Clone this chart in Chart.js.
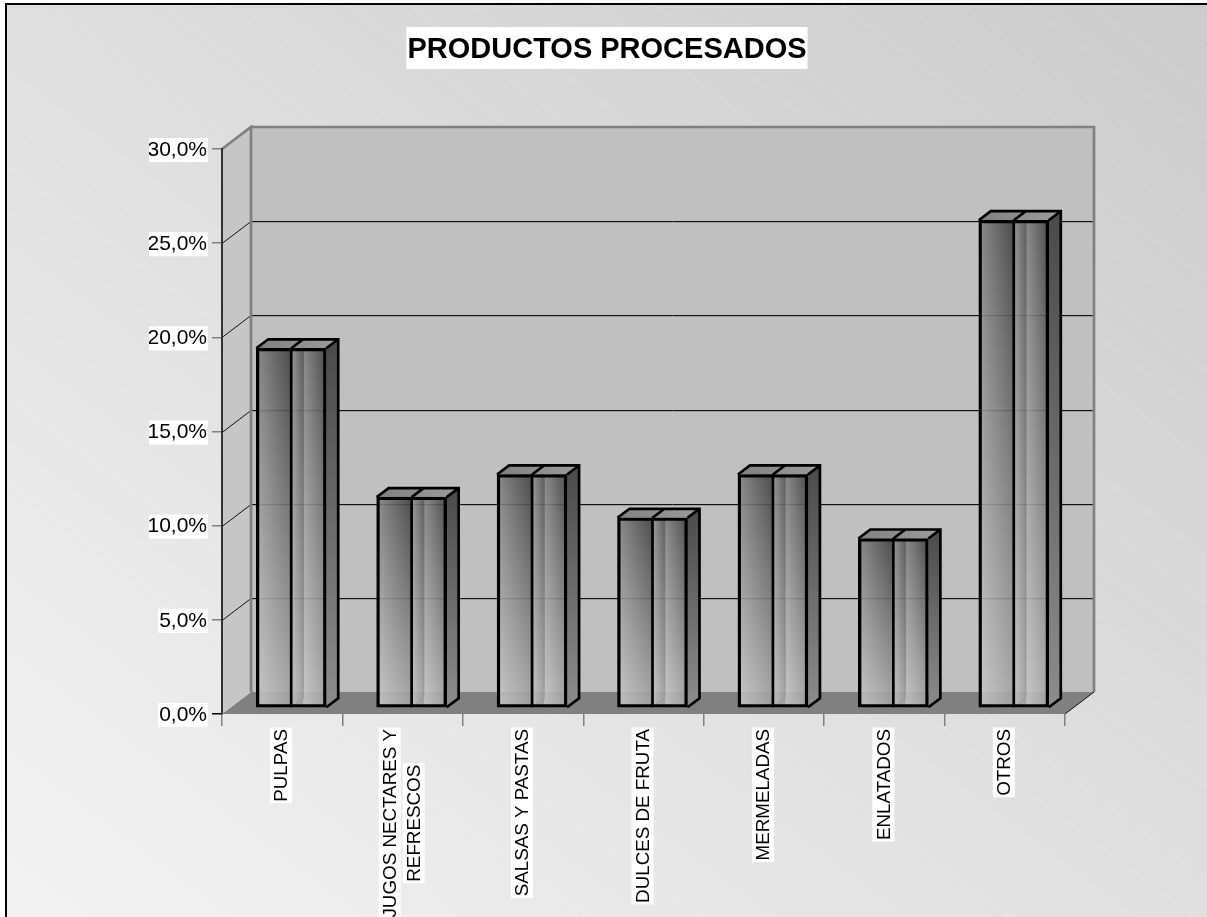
<!DOCTYPE html>
<html>
<head>
<meta charset="utf-8">
<style>html,body{margin:0;padding:0;background:#fff;overflow:hidden}canvas{display:block}</style>
<script src="https://cdn.jsdelivr.net/npm/chart.js@4"></script>
</head>
<body>
<canvas id="c" width="1207" height="917" style="width:1207px;height:917px"></canvas>
<script>
const titleText = 'PRODUCTOS PROCESADOS';
const categories = ['PULPAS', ['JUGOS NECTARES Y', 'REFRESCOS'], 'SALSAS Y PASTAS', 'DULCES DE FRUTA', 'MERMELADAS', 'ENLATADOS', 'OTROS'];
const values = [19.1, 11.2, 12.4, 10.1, 12.4, 9.0, 25.9];
const yTicks = { min: 0, max: 30, step: 5 };

const FONT = '"Liberation Sans", Arial, sans-serif';
const WALL = { dx: 29, dy: -22 };     // depth of the 3-D box
const BAR = { ox: 9, oy: -6, dx: 12, dy: -9 };

function shade(v, a) { v = Math.round(v); return `rgba(${v},${v},${v},${a})`; }

function drawHalf(ctx, x0, x1, top, bot, a) {
  const yTop = Math.round(top), yBot = Math.round(bot), H = yBot - yTop, step = 2;
  const xa = Math.round(x0), xb = Math.round(x1);
  for (let y = yTop; y < yBot; y += step) {
    const t = (y - yTop) / H;
    const l = 131 + (201 - 131) * t, r = 60 + (165 - 60) * t;
    const g = ctx.createLinearGradient(xa, 0, xb, 0);
    g.addColorStop(0, shade(l, a));
    g.addColorStop(1, shade(r, a));
    ctx.fillStyle = g;
    ctx.fillRect(xa, y, xb - xa, Math.min(step, yBot - y));
  }
}

const box3d = {
  id: 'box3d',
  beforeDraw(chart) {
    const ctx = chart.ctx, W = chart.width, H = chart.height;
    const { left, right, top, bottom } = chart.chartArea;
    const y = chart.scales.y;
    ctx.save();
    ctx.fillStyle = '#fff';
    ctx.fillRect(0, 0, W, H);
    // page backdrop
    const bg = ctx.createLinearGradient(6, 917, 877, -244);
    bg.addColorStop(0, '#f3f3f3');
    bg.addColorStop(1, '#cbcbcb');
    ctx.fillStyle = bg;
    ctx.fillRect(6, 4, W - 6, H - 4);
    ctx.save();
    ctx.beginPath(); ctx.rect(7, 5, W - 7, H - 5); ctx.clip();
    ctx.strokeStyle = 'rgba(255,255,255,0.17)';
    ctx.lineWidth = 1;
    for (let t = 20 - 37 * 20; t < 760; t += 37) {
      // lines 0.6x - 0.8y = t
      ctx.beginPath();
      ctx.moveTo(0, -t / 0.8);
      ctx.lineTo(W, (0.6 * W - t) / 0.8);
      ctx.stroke();
    }
    ctx.restore();
    ctx.fillStyle = '#000';
    ctx.fillRect(5, 3, W - 5, 2);
    ctx.fillRect(5, 3, 2, H - 3);

    // title backdrop
    ctx.font = `bold 29px ${FONT}`;
    const tw = ctx.measureText(titleText).width;
    ctx.fillStyle = '#fff';
    ctx.fillRect(607 - tw / 2 - 1, 27, tw + 2, 42);

    const d = WALL;
    // floor
    ctx.fillStyle = '#808080';
    ctx.beginPath();
    ctx.moveTo(left, bottom); ctx.lineTo(right, bottom);
    ctx.lineTo(right + d.dx, bottom + d.dy); ctx.lineTo(left + d.dx, bottom + d.dy);
    ctx.closePath(); ctx.fill();
    // back wall
    ctx.fillStyle = '#c0c0c0';
    ctx.fillRect(left + d.dx, top + d.dy, right - left, bottom - top);
    // side wall
    ctx.fillStyle = '#c6c6c6';
    ctx.beginPath();
    ctx.moveTo(left, top); ctx.lineTo(left + d.dx, top + d.dy);
    ctx.lineTo(left + d.dx, bottom + d.dy); ctx.lineTo(left, bottom);
    ctx.closePath(); ctx.fill();
    // grid lines
    y.ticks.forEach(tk => {
      if (tk.value <= yTicks.min || tk.value >= yTicks.max) return;
      const py = Math.round(y.getPixelForValue(tk.value));
      ctx.strokeStyle = '#111';
      ctx.lineWidth = 1;
      ctx.beginPath();
      ctx.moveTo(left, py + 0.5);
      ctx.lineTo(left + d.dx, py + d.dy + 0.5);
      ctx.lineTo(right + d.dx, py + d.dy + 0.5);
      ctx.stroke();
      ctx.strokeStyle = '#a0a0a0';
      ctx.beginPath();
      ctx.moveTo(left + d.dx, py + d.dy + 1.5);
      ctx.lineTo(right + d.dx, py + d.dy + 1.5);
      ctx.stroke();
    });
    // wall frame
    ctx.strokeStyle = '#808080';
    ctx.lineWidth = 2.7;
    ctx.beginPath();
    ctx.moveTo(left, top);
    ctx.lineTo(left + d.dx, top + d.dy);
    ctx.lineTo(left + d.dx, bottom + d.dy);
    ctx.moveTo(left + d.dx, top + d.dy);
    ctx.lineTo(right + d.dx, top + d.dy);
    ctx.lineTo(right + d.dx, bottom + d.dy);
    ctx.stroke();
    ctx.strokeStyle = '#111';
    ctx.lineWidth = 1;
    ctx.beginPath();
    ctx.moveTo(right, bottom); ctx.lineTo(right + d.dx, bottom + d.dy);
    ctx.stroke();
    ctx.restore();
  },
  beforeDatasetsDraw(chart) {
    const ctx = chart.ctx;
    ctx.save();
    ctx.translate(BAR.ox, BAR.oy);
    chart.getDatasetMeta(0).data.forEach(el => {
      const x0 = el.x - el.width / 2, x1 = el.x + el.width / 2, xm = el.x;
      const t = el.y, b = el.base;
      const dx = BAR.dx, dy = BAR.dy;
      // side face
      const sg = ctx.createLinearGradient(0, t + dy, 0, b);
      sg.addColorStop(0, '#4a4a4a');
      sg.addColorStop(1, '#8c8c8c');
      ctx.fillStyle = sg;
      ctx.beginPath();
      ctx.moveTo(x1, t); ctx.lineTo(x1 + dx, t + dy);
      ctx.lineTo(x1 + dx, b + dy); ctx.lineTo(x1, b);
      ctx.closePath(); ctx.fill();
      // top face
      const tg = ctx.createLinearGradient(x0, 0, x1 + dx, 0);
      tg.addColorStop(0, '#808080');
      tg.addColorStop(1, '#9c9c9c');
      ctx.fillStyle = tg;
      ctx.beginPath();
      ctx.moveTo(x0, t); ctx.lineTo(x0 + dx, t + dy);
      ctx.lineTo(x1 + dx, t + dy); ctx.lineTo(x1, t);
      ctx.closePath(); ctx.fill();
      // front face: shaded halves, divided by the inner back edge
      drawHalf(ctx, x0, xm, t, b, 0.88);
      drawHalf(ctx, xm, xm + dx, t, b, 0.88);
      drawHalf(ctx, xm + dx, x1, t, b, 0.88);
      // band between the centre line and the inner edge lightened
      const lg = ctx.createLinearGradient(0, t, 0, b);
      lg.addColorStop(0, 'rgba(255,255,255,0.10)');
      lg.addColorStop(1, 'rgba(255,255,255,0.0)');
      ctx.fillStyle = lg;
      ctx.fillRect(Math.round(xm), Math.round(t), dx, Math.round(b) - Math.round(t));
      const eg = ctx.createLinearGradient(0, t, 0, b);
      eg.addColorStop(0, '#626262');
      eg.addColorStop(1, '#a0a0a0');
      ctx.strokeStyle = eg;
      ctx.lineWidth = 1.5;
      ctx.beginPath();
      ctx.moveTo(xm + dx, t);
      ctx.lineTo(xm + dx, b + dy);
      ctx.lineTo(xm, b);
      ctx.stroke();
    });
  },
  afterDatasetsDraw(chart) {
    const ctx = chart.ctx;
    chart.getDatasetMeta(0).data.forEach(el => {
      const x0 = el.x - el.width / 2, x1 = el.x + el.width / 2, xm = el.x;
      const t = el.y, b = el.base;
      const dx = BAR.dx, dy = BAR.dy;
      ctx.strokeStyle = '#000';
      ctx.lineWidth = 2.7;
      ctx.lineJoin = 'miter';
      ctx.beginPath();
      ctx.moveTo(x0, t); ctx.lineTo(x0 + dx, t + dy);
      ctx.lineTo(x1 + dx, t + dy); ctx.lineTo(x1 + dx, b + dy); ctx.lineTo(x1, b);
      ctx.moveTo(x1, t); ctx.lineTo(x1 + dx, t + dy);
      ctx.moveTo(xm, t); ctx.lineTo(xm + dx, t + dy);
      ctx.moveTo(xm, t); ctx.lineTo(xm, b);
      ctx.stroke();
    });
    ctx.restore();
  },
  afterDraw(chart) {
    // category labels: rotated, each line centred in its block, white behind each line
    const ctx = chart.ctx, xs = chart.scales.x;
    const topY = 729, pitch = 24;
    ctx.save();
    ctx.font = `18.8px ${FONT}`;
    ctx.textBaseline = 'middle';
    ctx.textAlign = 'center';
    categories.forEach((lab, i) => {
      const lines = Array.isArray(lab) ? lab : [lab];
      const maxW = Math.max(...lines.map(s => ctx.measureText(s).width));
      const cx = xs.getPixelForValue(i) - 1;
      const cy = topY + maxW / 2;
      lines.forEach((s, k) => {
        const off = (k - (lines.length - 1) / 2) * pitch;
        const w = ctx.measureText(s).width;
        ctx.save();
        ctx.translate(cx + off, cy);
        ctx.rotate(-Math.PI / 2);
        ctx.fillStyle = '#fff';
        ctx.fillRect(-w / 2 - 1.5, -11, w + 3, 22);
        ctx.fillStyle = '#000';
        ctx.fillText(s, 0, 1);
        ctx.restore();
      });
    });
    ctx.restore();
  }
};

new Chart(document.getElementById('c'), {
  type: 'bar',
  data: {
    labels: categories,
    datasets: [{
      label: titleText,
      data: values,
      backgroundColor: 'rgba(0,0,0,0)',
      borderColor: '#000',
      borderWidth: 2.7,
      borderSkipped: false,
      barThickness: 70
    }]
  },
  plugins: [box3d],
  options: {
    responsive: false,
    animation: false,
    devicePixelRatio: 1,
    layout: { padding: { left: 149, right: 142, top: 0, bottom: 0 } },
    plugins: {
      legend: { display: false },
      tooltip: { enabled: false },
      title: {
        display: true,
        text: titleText,
        color: '#000',
        font: { family: FONT, size: 29, weight: 'bold', lineHeight: 1.2 },
        padding: { top: 32.6, bottom: 81.6 }
      }
    },
    scales: {
      x: {
        offset: true,
        border: { display: false },
        grid: { drawOnChartArea: false, drawTicks: true, tickLength: 12, color: '#808080', tickColor: '#808080', lineWidth: 1.5, offset: true },
        ticks: { display: false, autoSkip: false },
        afterFit(s) { s.height = 203; }
      },
      y: {
        min: yTicks.min,
        max: yTicks.max,
        border: { color: '#333', width: 2 },
        grid: {
          drawOnChartArea: false,
          drawTicks: true,
          tickLength: 10,
          lineWidth: 1.5,
          tickColor: c => (c.tick && c.tick.value === 0 ? '#000' : '#808080')
        },
        ticks: {
          stepSize: yTicks.step,
          color: '#000',
          padding: 5,
          labelOffset: 1,
          font: { family: FONT, size: 21, lineHeight: 1.15 },
          showLabelBackdrop: true,
          backdropColor: '#fff',
          backdropPadding: { top: 0, bottom: 0, left: 1, right: 1 },
          callback: v => v.toFixed(1).replace('.', ',') + '%'
        },
        afterFit(s) { s.width = 73; }
      }
    }
  }
});
</script>
</body>
</html>
